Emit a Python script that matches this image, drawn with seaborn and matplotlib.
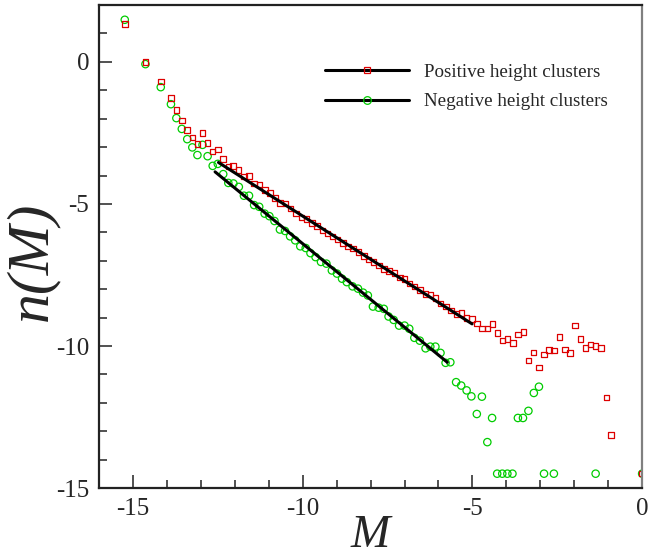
import numpy as np
import pandas as pd
import matplotlib
matplotlib.use("Agg")
import matplotlib.pyplot as plt
from matplotlib.lines import Line2D
import seaborn as sns

# Cluster mass distribution
red_m = [-15.24, -14.63, -14.18, -13.88, -13.72, -13.56, -13.40, -13.25, -13.10, -12.95,
         -12.80, -12.65, -12.49, -12.34, -12.19, -12.05, -11.89, -11.73, -11.58, -11.43,
         -11.27, -11.11, -10.96, -10.81, -10.66, -10.50, -10.36, -10.20, -10.04, -9.89,
         -9.73, -9.58, -9.42, -9.27, -9.12, -8.97, -8.81, -8.66, -8.52, -8.36,
         -8.20, -8.06, -7.91, -7.75, -7.60, -7.45, -7.30, -7.14, -7.00, -6.85,
         -6.70, -6.55, -6.38, -6.24, -6.09, -5.94, -5.77, -5.63, -5.47, -5.32,
         -5.17, -5.01, -4.86, -4.71, -4.56, -4.41, -4.26, -4.11, -3.96, -3.80,
         -3.65, -3.50, -3.35, -3.20, -3.04, -2.89, -2.74, -2.59, -2.43, -2.28,
         -2.13, -1.97, -1.82, -1.67, -1.52, -1.37, -1.21, -1.05, -0.91, 0.0]
red_n = [1.34, -0.01, -0.69, -1.27, -1.69, -2.07, -2.39, -2.66, -2.90, -2.50,
         -2.86, -3.16, -3.08, -3.42, -3.69, -3.67, -3.81, -4.04, -4.02, -4.28,
         -4.31, -4.51, -4.61, -4.79, -4.96, -4.98, -5.16, -5.34, -5.48, -5.53,
         -5.67, -5.78, -5.93, -6.04, -6.14, -6.25, -6.37, -6.49, -6.57, -6.69,
         -6.84, -6.96, -7.04, -7.16, -7.28, -7.36, -7.43, -7.59, -7.64, -7.80,
         -7.90, -8.02, -8.16, -8.19, -8.30, -8.51, -8.61, -8.75, -8.87, -8.83,
         -9.01, -9.04, -9.20, -9.38, -9.38, -9.22, -9.55, -9.81, -9.75, -9.90,
         -9.60, -9.50, -10.51, -10.22, -10.75, -10.29, -10.13, -10.16, -9.69, -10.12,
         -10.25, -9.27, -9.76, -10.06, -9.95, -9.99, -10.06, -11.81, -13.12, -14.49]

green_m = [-15.24, -14.63, -14.18, -13.88, -13.72, -13.56, -13.40, -13.25, -13.10, -12.95,
           -12.80, -12.65, -12.50, -12.34, -12.19, -12.04, -11.88, -11.73, -11.58, -11.43,
           -11.28, -11.12, -10.98, -10.83, -10.67, -10.52, -10.37, -10.22, -10.07, -9.91,
           -9.77, -9.62, -9.46, -9.30, -9.14, -8.99, -8.84, -8.70, -8.53, -8.37,
           -8.22, -8.08, -7.93, -7.76, -7.61, -7.47, -7.32, -7.16, -7.00, -6.86,
           -6.71, -6.55, -6.38, -6.24, -6.09, -5.94, -5.79, -5.65, -5.48, -5.33,
           -5.17, -5.03, -4.87, -4.72, -4.56, -4.42, -4.27, -4.12, -3.97, -3.82,
           -3.66, -3.51, -3.35, -3.19, -3.04, -2.89, -2.60, -1.37, 0.0]
green_n = [1.48, -0.08, -0.89, -1.49, -1.98, -2.36, -2.72, -3.01, -3.28, -2.92,
           -3.32, -3.66, -3.59, -3.95, -4.26, -4.28, -4.40, -4.71, -4.71, -5.04,
           -5.10, -5.34, -5.43, -5.60, -5.90, -5.95, -6.14, -6.28, -6.49, -6.55,
           -6.73, -6.87, -7.04, -7.10, -7.34, -7.45, -7.63, -7.75, -7.90, -7.98,
           -8.12, -8.22, -8.61, -8.65, -8.69, -8.96, -9.08, -9.28, -9.28, -9.39,
           -9.71, -9.81, -10.08, -10.02, -10.02, -10.24, -10.59, -10.57, -11.27, -11.39,
           -11.56, -11.77, -12.39, -11.78, -13.38, -12.53, -14.49, -14.49, -14.49, -14.49,
           -12.53, -12.53, -12.28, -11.65, -11.43, -14.49, -14.49, -14.49, -14.49]

# linear fits (end points)
red_fit_m = [-12.48, -5.01]
red_fit_n = [-3.54, -9.22]
green_fit_m = [-12.58, -5.74]
green_fit_n = [-3.87, -10.57]

labels = ["Positive height clusters", "Negative height clusters"]

df_pos = pd.DataFrame({"M": red_m, "n": red_n})
df_neg = pd.DataFrame({"M": green_m, "n": green_n})

sns.set_style("white")
plt.rcParams["font.family"] = ["Liberation Serif", "DejaVu Serif"]
plt.rcParams["axes.unicode_minus"] = False

RED = "#dd0000"
GREEN = "#00cc00"

fig = plt.figure(figsize=(6.62, 5.56), dpi=100)
ax = fig.add_axes([0.1495, 0.122, 0.8205, 0.869])

sns.scatterplot(data=df_neg, x="M", y="n", ax=ax, marker="o", s=28,
                facecolors="none", edgecolor=GREEN, linewidth=0.9, zorder=2)
sns.scatterplot(data=df_pos, x="M", y="n", ax=ax, marker="s", s=16,
                facecolors="none", edgecolor=RED, linewidth=0.9, zorder=2)
sns.lineplot(x=red_fit_m, y=red_fit_n, ax=ax, color="black", linewidth=2.2, zorder=3)
sns.lineplot(x=green_fit_m, y=green_fit_n, ax=ax, color="black", linewidth=2.2, zorder=3)

ax.set_xlim(-16, 0)
ax.set_ylim(-15, 2)
ax.set_xticks([-15, -10, -5, 0])
ax.set_yticks([-15, -10, -5, 0])
ax.set_xticks(np.arange(-16, 1, 1), minor=True)
ax.set_yticks(np.arange(-15, 2.5, 1), minor=True)
ax.tick_params(which="both", direction="in", bottom=True, left=True, top=False, right=False,
               labelsize=18, color="#222222")
ax.tick_params(which="major", length=9.5, width=1.1, pad=7)
ax.tick_params(which="minor", length=5.8, width=1.1)

ax.set_xlabel("M", fontsize=34, fontstyle="italic", labelpad=-4)
ax.set_ylabel("n(M)", fontsize=43, fontstyle="italic")
ax.yaxis.set_label_coords(-0.074, 0.47)

for side in ["left", "bottom", "top"]:
    ax.spines[side].set_color("#222222")
    ax.spines[side].set_linewidth(1.6)
ax.spines["right"].set_color("#808080")
ax.spines["right"].set_linewidth(1.6)

handles = [
    Line2D([], [], color="black", lw=2.2, marker="s", ms=4.5, mfc="none", mec=RED, mew=0.9),
    Line2D([], [], color="black", lw=2.2, marker="o", ms=5.5, mfc="none", mec=GREEN, mew=0.9),
]
ax.legend(handles, labels, loc="upper left", bbox_to_anchor=(0.491, 0.886),
          bbox_transform=fig.transFigure, frameon=False, fontsize=13.7,
          handlelength=4.4, handletextpad=0.8, labelspacing=0.65,
          borderpad=0, borderaxespad=0, numpoints=1)

fig.savefig("out.png", dpi=100)
